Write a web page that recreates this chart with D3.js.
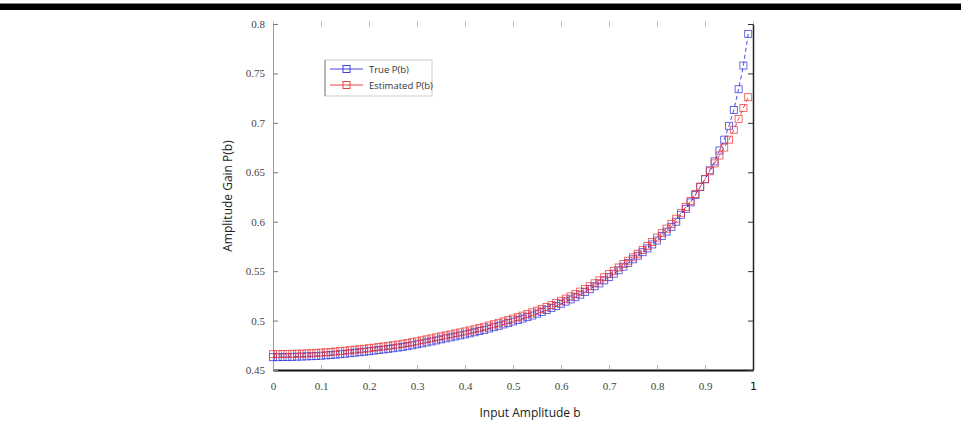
<!DOCTYPE html>
<html>
<head>
<meta charset="utf-8">
<script src="https://cdn.jsdelivr.net/npm/d3@7"></script>
<style>
  body { margin: 0; background: #fff; }
  #container { width: 961px; height: 434px; }
</style>
</head>
<body>
<div id="container"></div>
<script>
// input amplitude b
var inputB = [
  0.00,0.01,0.02,0.03,0.04,0.05,0.06,0.07,0.08,0.09,
  0.10,0.11,0.12,0.13,0.14,0.15,0.16,0.17,0.18,0.19,
  0.20,0.21,0.22,0.23,0.24,0.25,0.26,0.27,0.28,0.29,
  0.30,0.31,0.32,0.33,0.34,0.35,0.36,0.37,0.38,0.39,
  0.40,0.41,0.42,0.43,0.44,0.45,0.46,0.47,0.48,0.49,
  0.50,0.51,0.52,0.53,0.54,0.55,0.56,0.57,0.58,0.59,
  0.60,0.61,0.62,0.63,0.64,0.65,0.66,0.67,0.68,0.69,
  0.70,0.71,0.72,0.73,0.74,0.75,0.76,0.77,0.78,0.79,
  0.80,0.81,0.82,0.83,0.84,0.85,0.86,0.87,0.88,0.89,
  0.90,0.91,0.92,0.93,0.94,0.95,0.96,0.97,0.98,0.99
];

var truePb = [
  0.4630,0.4630,0.4631,0.4632,0.4633,0.4635,0.4636,0.4638,0.4640,0.4642,
  0.4645,0.4648,0.4651,0.4655,0.4660,0.4665,0.4670,0.4675,0.4680,0.4685,
  0.4690,0.4696,0.4702,0.4708,0.4714,0.4720,0.4727,0.4734,0.4741,0.4750,
  0.4760,0.4769,0.4779,0.4789,0.4799,0.4810,0.4820,0.4830,0.4840,0.4850,
  0.4860,0.4871,0.4882,0.4894,0.4906,0.4920,0.4933,0.4947,0.4961,0.4975,
  0.4990,0.5005,0.5020,0.5035,0.5051,0.5070,0.5088,0.5107,0.5127,0.5148,
  0.5170,0.5192,0.5214,0.5237,0.5262,0.5290,0.5318,0.5347,0.5376,0.5407,
  0.5440,0.5474,0.5509,0.5545,0.5582,0.5620,0.5656,0.5692,0.5730,0.5770,
  0.5810,0.5855,0.5900,0.5948,0.6000,0.6070,0.6130,0.6195,0.6270,0.6350,
  0.6430,0.6520,0.6610,0.6720,0.6830,0.6970,0.7130,0.7340,0.7580,0.7900
];

var estimatedPb = [
  0.4660,0.4660,0.4661,0.4662,0.4663,0.4665,0.4666,0.4668,0.4670,0.4673,
  0.4676,0.4679,0.4683,0.4687,0.4691,0.4695,0.4700,0.4705,0.4710,0.4715,
  0.4720,0.4726,0.4732,0.4738,0.4744,0.4750,0.4757,0.4765,0.4773,0.4781,
  0.4790,0.4800,0.4810,0.4820,0.4830,0.4840,0.4850,0.4860,0.4870,0.4880,
  0.4890,0.4901,0.4912,0.4924,0.4937,0.4950,0.4963,0.4977,0.4991,0.5005,
  0.5020,0.5035,0.5050,0.5066,0.5083,0.5100,0.5118,0.5137,0.5157,0.5178,
  0.5200,0.5222,0.5245,0.5268,0.5293,0.5320,0.5348,0.5377,0.5407,0.5438,
  0.5470,0.5503,0.5537,0.5572,0.5605,0.5640,0.5676,0.5714,0.5754,0.5795,
  0.5840,0.5884,0.5930,0.5978,0.6030,0.6090,0.6150,0.6210,0.6280,0.6355,
  0.6430,0.6510,0.6590,0.6670,0.6750,0.6830,0.6930,0.7040,0.7150,0.7260
];

var xTicks = [0, 0.1, 0.2, 0.3, 0.4, 0.5, 0.6, 0.7, 0.8, 0.9, 1];
var yTicks = [0.45, 0.5, 0.55, 0.6, 0.65, 0.7, 0.75, 0.8];
var seriesNames = ["True P(b)", "Estimated P(b)"];
var seriesColors = ["#2f2fe0", "#e83232"];

var config = {
  container: "#container",
  width: 961,
  height: 434,
  left: 273,
  right: 753,
  top: 24,
  bottom: 370
};

var svg = d3.select(config.container)
    .append("svg")
    .attr("width", config.width)
    .attr("height", config.height);

// black strip along the top of the page
svg.append("rect")
    .attr("x", 0).attr("y", 3)
    .attr("width", config.width).attr("height", 1)
    .attr("fill", "#888");
svg.append("rect")
    .attr("x", 0).attr("y", 4)
    .attr("width", config.width).attr("height", 6)
    .attr("fill", "#000");

var x = d3.scaleLinear().domain([0, 1]).range([config.left, config.right]);
var y = d3.scaleLinear().domain([0.45, 0.8]).range([config.bottom, config.top]);

var tickFont = "'Liberation Serif', serif";

// bottom axis, ticks pointing inwards
var xAxis = svg.append("g")
    .attr("transform", "translate(0," + config.bottom + ")")
    .call(d3.axisBottom(x).tickValues(xTicks).tickSizeInner(-5).tickSizeOuter(0).tickPadding(12)
        .tickFormat(function(d) { return d === 1 ? "1" : d3.format("")(d); }));
xAxis.select(".domain").attr("stroke", "#111").attr("stroke-width", 2);
xAxis.selectAll(".tick line").attr("stroke", "#aaa");
xAxis.selectAll(".tick text")
    .style("font-family", function(d) { return d === 1 ? "'DejaVu Sans', sans-serif" : tickFont; })
    .style("font-size", function(d) { return d === 1 ? "11px" : "11px"; })
    .attr("fill", function(d) { return d === 1 ? "#111" : "#444"; });

// top ticks only
var xTop = svg.append("g")
    .attr("transform", "translate(0," + (config.top - 3) + ")")
    .call(d3.axisTop(x).tickValues(xTicks).tickSizeInner(-6).tickSizeOuter(0).tickFormat(""));
xTop.select(".domain").remove();
xTop.selectAll(".tick line").attr("stroke", "#bbb");

// left axis
var yAxis = svg.append("g")
    .attr("transform", "translate(" + config.left + ",0)")
    .call(d3.axisLeft(y).tickValues(yTicks).tickSizeInner(-5).tickSizeOuter(0).tickPadding(8)
        .tickFormat(d3.format("")));
yAxis.select(".domain").attr("stroke", "#999");
yAxis.selectAll(".tick line").attr("stroke", "#777");
yAxis.selectAll(".tick text")
    .style("font-family", tickFont)
    .style("font-size", "11px")
    .attr("fill", "#444");

// right axis
var yRight = svg.append("g")
    .attr("transform", "translate(" + config.right + ",0)")
    .call(d3.axisRight(y).tickValues(yTicks).tickSizeInner(-5).tickSizeOuter(0).tickFormat(""));
yRight.select(".domain").attr("stroke", "#222").attr("stroke-width", 1.5);
yRight.selectAll(".tick line").attr("stroke", "#333");

// axis titles
svg.append("text")
    .attr("x", 530).attr("y", 417)
    .attr("text-anchor", "middle")
    .style("font-family", "'Open Sans', sans-serif")
    .style("font-size", "12px")
    .attr("fill", "#222")
    .text("Input Amplitude b");

svg.append("text")
    .attr("transform", "translate(232,196) rotate(-90)")
    .attr("text-anchor", "middle")
    .style("font-family", "'Open Sans', sans-serif")
    .style("font-size", "12px")
    .attr("fill", "#222")
    .text("Amplitude Gain P(b)");

// series
var series = [truePb, estimatedPb];
var markerSize = 7;

series.forEach(function(values, i) {
  var pts = inputB.map(function(b, k) { return [b, values[k]]; });
  var g = svg.append("g").attr("class", "series-" + i);

  g.append("path")
      .datum(pts)
      .attr("fill", "none")
      .attr("stroke", seriesColors[i])
      .attr("stroke-width", 0.9)
      .attr("stroke-dasharray", "4,3")
      .attr("d", d3.line().x(function(d) { return x(d[0]); }).y(function(d) { return y(d[1]); }));

  g.selectAll("rect")
      .data(pts)
      .enter()
      .append("rect")
      .attr("x", function(d) { return x(d[0]) - markerSize / 2; })
      .attr("y", function(d) { return y(d[1]) - markerSize / 2; })
      .attr("width", markerSize)
      .attr("height", markerSize)
      .attr("fill", "none")
      .attr("stroke", seriesColors[i])
      .attr("stroke-width", 0.9)
      .attr("stroke-opacity", 0.8);
});

// legend
var legend = svg.append("g").attr("transform", "translate(325,60)");
legend.append("rect")
    .attr("width", 107).attr("height", 36)
    .attr("fill", "#fff")
    .attr("stroke", "#ccc");
legend.append("line")
    .attr("x1", 0).attr("y1", 0).attr("x2", 0).attr("y2", 36)
    .attr("stroke", "#888");

seriesNames.forEach(function(name, i) {
  var ly = 9 + i * 16;
  legend.append("line")
      .attr("x1", 5).attr("x2", 38)
      .attr("y1", ly).attr("y2", ly)
      .attr("stroke", seriesColors[i])
      .attr("stroke-width", 0.9);
  legend.append("rect")
      .attr("x", 21.5 - markerSize / 2).attr("y", ly - markerSize / 2)
      .attr("width", markerSize).attr("height", markerSize)
      .attr("fill", "none")
      .attr("stroke", seriesColors[i])
      .attr("stroke-width", 0.9);
  legend.append("text")
      .attr("x", 44).attr("y", ly + 4)
      .style("font-family", "'Open Sans', sans-serif")
      .style("font-size", "9.5px")
      .attr("fill", "#333")
      .text(name);
});
</script>
</body>
</html>
